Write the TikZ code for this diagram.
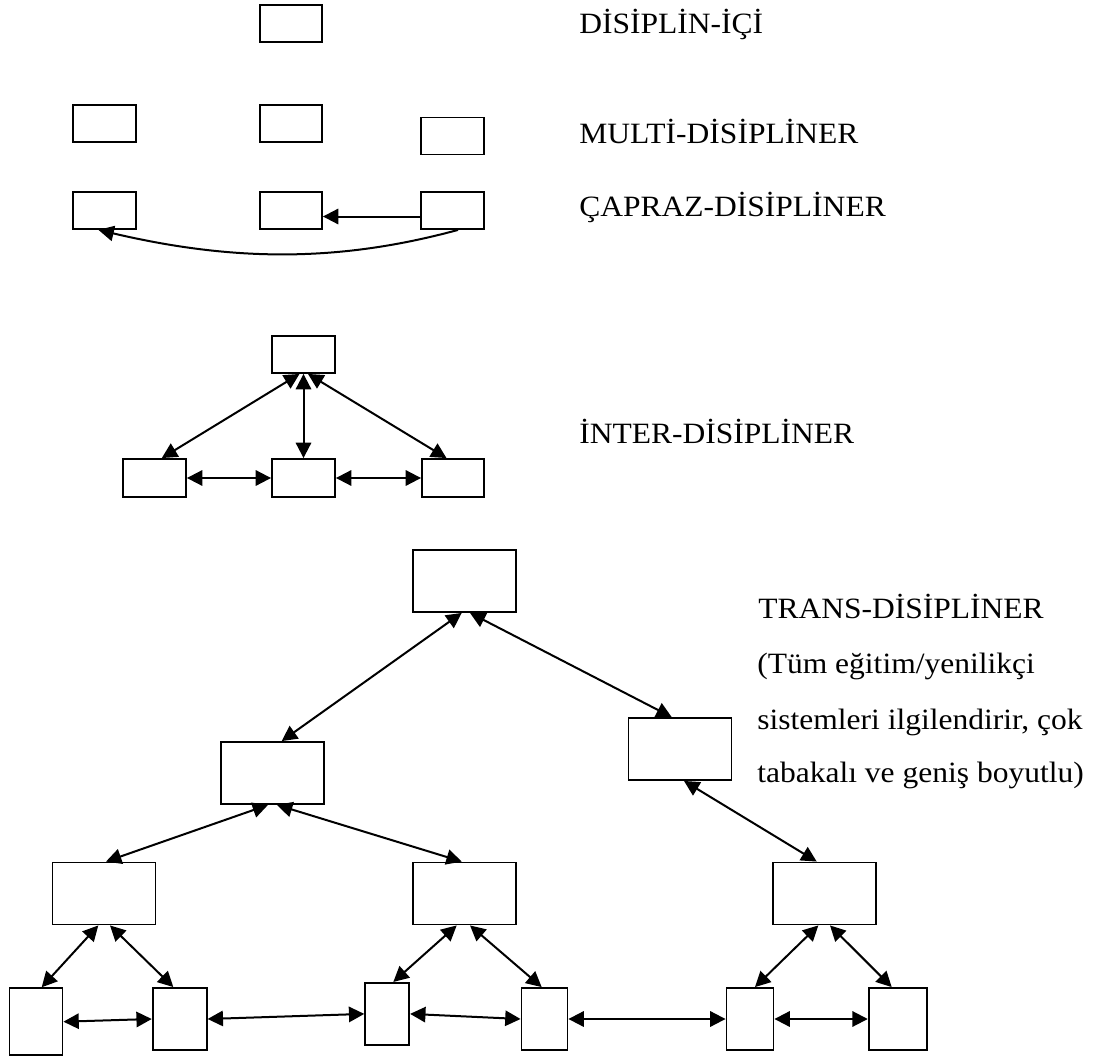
\documentclass[tikz,border=0pt]{standalone}
\usepackage{graphicx}
\usepackage{fontspec}
\setmainfont{Liberation Serif}
\usetikzlibrary{arrows.meta,calc}
\newcommand{\stx}[1]{\scalebox{1.07}[1]{#1}}
\begin{document}
\begin{tikzpicture}[x=0.75pt,y=-0.75pt,
  box/.style={draw,line width=1.4pt,inner sep=0pt,fill=white},
  bx/.style 2 args={box,minimum width=#1*0.75pt,minimum height=#2*0.75pt},
  lbl/.style={anchor=base west,inner sep=0pt,font=\fontsize{22.1}{26}\selectfont},
  con/.style={line width=1.5pt,-{Triangle[length=11.5pt,width=11.5pt]}},
  bicon/.style={line width=1.5pt,{Triangle[length=11.5pt,width=11.5pt]}-{Triangle[length=11.5pt,width=11.5pt]}}]
\fill[white] (0,0) rectangle (1101,1056);
\useasboundingbox (0,0) rectangle (1101,1056);

% ---------- labels ----------
\node[lbl] (l1) at (579,33.5) {\stx{DİSİPLİN-İÇİ}};
\node[lbl] (l2) at (579,144) {\stx{MULTİ-DİSİPLİNER}};
\node[lbl] (l3) at (579,216.8) {\stx{ÇAPRAZ-DİSİPLİNER}};
\node[lbl] (l4) at (579,443.3) {\stx{İNTER-DİSİPLİNER}};
\node[lbl] (l5) at (758,618.5) {\stx{TRANS-DİSİPLİNER}};
\node[lbl] (l6) at (757,673.5) {\stx{(Tüm eğitim/yenilikçi}};
\node[lbl] (l7) at (757,729.3) {\stx{sistemleri ilgilendirir, çok}};
\node[lbl] (l8) at (757,782.7) {\stx{tabakalı ve geniş boyutlu)}};

% ---------- disiplin-ici ----------
\node[bx={62}{37}] (a) at (291,23.5) {};

% ---------- multi ----------
\node[bx={63}{37}] (m1) at (104.5,123.5) {};
\node[bx={62}{37}] (m2) at (291,123.5) {};
\node[bx={63}{37}] (m3) at (452.5,136) {};

% ---------- capraz ----------
\node[bx={63}{37}] (c1) at (104.5,210.5) {};
\node[bx={62}{37}] (c2) at (291,210.5) {};
\node[bx={63}{37}] (c3) at (452.5,210.5) {};
\draw[con] ($(c3.west)+(0,6)$) -- ($(c2.east)+(0,6)$);
\draw[con] ($(c3.south)+(5.5,0)$) .. controls (340,262) and (235,262) .. ($(c1.south)+(-6,0)$);

% ---------- inter ----------
\node[bx={63}{37}] (i0) at (303.5,354.5) {};
\node[bx={63}{38}] (i1) at (154.5,478) {};
\node[bx={63}{38}] (i2) at (303.5,478) {};
\node[bx={62}{38}] (i3) at (453,478) {};
\draw[bicon] ($(i0.south)+(-4,0)$) -- ($(i1.north)+(7.3,0)$);
\draw[bicon] (i0.south) -- (i2.north);
\draw[bicon] ($(i0.south)+(4.5,0)$) -- ($(i3.north)+(-6.5,0)$);
\draw[bicon] (i1.east) -- (i2.west);
\draw[bicon] (i2.east) -- (i3.west);

% ---------- trans ----------
\node[bx={103}{62}] (t0) at (464.5,581) {};
\node[bx={103}{62}] (t1) at (272.5,773) {};
\node[bx={103}{62}] (t2) at (680,749) {};
\node[bx={103}{62}] (u1) at (104,893.5) {};
\node[bx={103}{62}] (u2) at (464.7,893.5) {};
\node[bx={103}{62}] (u3) at (824.3,893.5) {};
\node[bx={53}{67}] (b1) at (36,1021.7) {};
\node[bx={54}{62}] (b2) at (179.7,1019) {};
\node[bx={44}{62}] (b3) at (387.2,1013.9) {};
\node[bx={46}{62}] (b4) at (544.5,1019) {};
\node[bx={47}{62}] (b5) at (750,1019) {};
\node[bx={58}{62}] (b6) at (897.7,1019) {};

\draw[bicon] ($(t0.south)+(-2.8,0)$) -- ($(t1.north)+(9.2,0)$);
\draw[bicon] ($(t0.south)+(5.5,0)$) -- ($(t2.north)+(-8.3,0)$);
\draw[bicon] ($(t1.south)+(-4.5,0)$) -- ($(u1.north)+(2,0)$);
\draw[bicon] ($(t1.south)+(4.5,0)$) -- ($(u2.north)+(-3,0)$);
\draw[bicon] ($(t2.south)+(4,0)$) -- ($(u3.north)+(-7.6,0)$);
\draw[bicon] ($(u1.south)+(-5.7,0)$) -- ($(b1.north)+(5.7,0)$);
\draw[bicon] ($(u1.south)+(6,0)$) -- ($(b2.north)+(-6.4,0)$);
\draw[bicon] ($(u2.south)+(-8,0)$) -- ($(b3.north)+(6.1,0)$);
\draw[bicon] ($(u2.south)+(5.3,0)$) -- ($(b4.north)+(-2.8,0)$);
\draw[bicon] ($(u3.south)+(-6,0)$) -- ($(b5.north)+(5,0)$);
\draw[bicon] ($(u3.south)+(5.7,0)$) -- ($(b6.north)+(-6,0)$);
\draw[bicon] (b1.east) -- (b2.west);
\draw[bicon] (b2.east) -- (b3.west);
\draw[bicon] (b3.east) -- (b4.west);
\draw[bicon] (b4.east) -- (b5.west);
\draw[bicon] (b5.east) -- (b6.west);
\end{tikzpicture}
\end{document}
